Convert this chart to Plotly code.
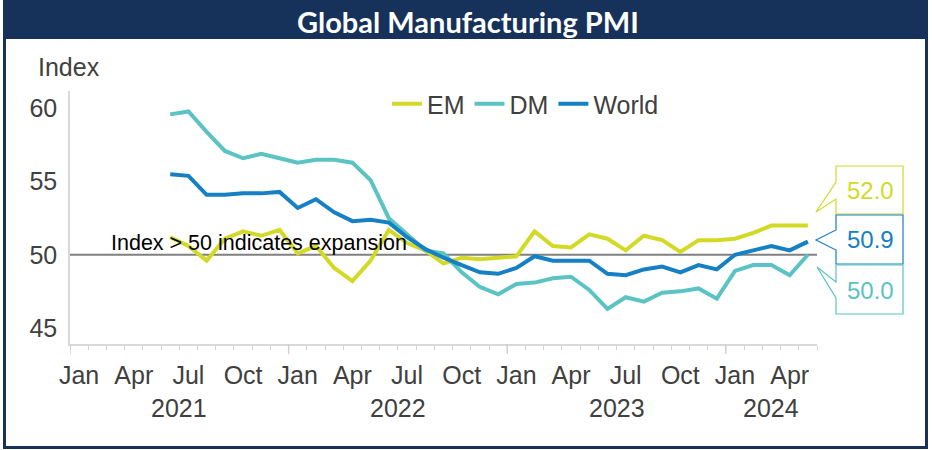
import plotly.graph_objects as go
import pandas as pd

# ---------------- data ----------------
months = [str(p) for p in pd.period_range("2021-06", "2024-05", freq="M")]
em = [51.2, 50.6, 49.6, 51.1, 51.6, 51.3, 51.7, 50.1, 50.6, 49.1, 48.2, 49.6,
      51.7, 50.8, 50.3, 49.4, 49.8, 49.7, 49.8, 49.9, 51.6, 50.6, 50.5, 51.4,
      51.1, 50.3, 51.3, 51.0, 50.2, 51.0, 51.0, 51.1, 51.5, 52.0, 52.0, 52.0]
dm = [59.6, 59.8, 58.4, 57.1, 56.6, 56.9, 56.6, 56.3, 56.5, 56.5, 56.3, 55.1,
      52.5, 51.4, 50.3, 50.1, 48.8, 47.8, 47.3, 48.0, 48.1, 48.4, 48.5, 47.6,
      46.3, 47.1, 46.8, 47.4, 47.5, 47.7, 47.0, 48.9, 49.3, 49.3, 48.6, 50.0]
world = [55.5, 55.4, 54.1, 54.1, 54.2, 54.2, 54.3, 53.2, 53.8, 52.9, 52.3, 52.4,
         52.2, 51.2, 50.4, 49.8, 49.3, 48.8, 48.7, 49.1, 49.9, 49.6, 49.6, 49.6,
         48.7, 48.6, 49.0, 49.2, 48.8, 49.3, 49.0, 50.0, 50.3, 50.6, 50.3, 50.9]
axis_start = "2021-01"
axis_end = "2024-05"
month_tick_names = ["Jan", "Apr", "Jul", "Oct"]
years = [2021, 2022, 2023, 2024]
y_ticks = [45, 50, 55, 60]
threshold = 50
threshold_text = "Index > 50 indicates expansion"
title_text = "Global Manufacturing PMI"

# ---------------- styling ----------------
C_EM = "#d2da26"
C_DM = "#5bc3c3"
C_WORLD = "#1580c4"
NAVY = "#16315a"
GRAY_TXT = "#404040"
FONT = "Liberation Sans, Arial, sans-serif"

W, H = 932, 450
L, T, R, B = 70, 91, 115, 106
PW, PH = W - L - R, H - T - B


def px(xp):
    return (xp - L) / PW


def py(yp):
    return (T + PH - yp) / PH


start = pd.Period(axis_start, freq="M")
end = pd.Period(axis_end, freq="M")
n_months = (end - start).n + 1


def midx(s):
    return (pd.Period(s, freq="M") - start).n


x = [midx(m) for m in months]

fig = go.Figure()
for name, vals, col in [("EM", em, C_EM), ("DM", dm, C_DM), ("World", world, C_WORLD)]:
    fig.add_trace(go.Scatter(x=x, y=vals, name=name, mode="lines",
                             line=dict(color=col, width=4), hoverinfo="skip"))

# month tick labels
tickvals, ticktext = [], []
for i in range(n_months):
    p = start + i
    if p.month in (1, 4, 7, 10):
        tickvals.append(i)
        ticktext.append(month_tick_names[(p.month - 1) // 3])

fig.update_layout(
    width=W, height=H,
    margin=dict(l=L, r=R, t=T, b=B, pad=0),
    paper_bgcolor="white", plot_bgcolor="white",
    font=dict(family=FONT, color=GRAY_TXT, size=25),
    showlegend=True,
    legend=dict(orientation="h", x=px(387), xanchor="left", y=py(104), yanchor="middle",
                font=dict(size=25, color=GRAY_TXT), bgcolor="rgba(0,0,0,0)",
                itemwidth=30, tracegroupgap=0),
    xaxis=dict(range=[-0.5, n_months - 0.5], tickvals=tickvals, ticktext=ticktext,
               ticks="", showgrid=False, zeroline=False, showline=True,
               linecolor="#d9d9d9", linewidth=1.5,
               tickfont=dict(size=25, color=GRAY_TXT, family=FONT),
               ticklabelstandoff=8,
               minor=dict(tick0=-0.5, dtick=1, ticks="outside", ticklen=4,
                          tickcolor="#d0d0d0", tickwidth=1)),
    yaxis=dict(range=[43.9, 61.2], tickvals=y_ticks, ticks="", showgrid=False,
               zeroline=False, showline=True, linecolor="#d9d9d9", linewidth=1.5,
               tickfont=dict(size=25, color=GRAY_TXT, family=FONT),
               ticklabelstandoff=6),
)

shapes = []
# threshold line
shapes.append(dict(type="line", xref="paper", yref="y", x0=0, x1=1, y0=threshold, y1=threshold,
                   line=dict(color="#808080", width=2), layer="below"))
# year boundary ticks
for k in range(len(years)):
    xb = midx(f"{years[k]}-01") - 0.5
    shapes.append(dict(type="line", xref="x", yref="paper", x0=xb, x1=xb,
                       y0=0, y1=-10 / PH, line=dict(color="#d0d0d0", width=1.5)))
# frame and title bar
shapes.append(dict(type="rect", xref="paper", yref="paper", x0=px(4), x1=px(926.5),
                   y0=py(39), y1=py(0), fillcolor=NAVY, line=dict(width=0)))
shapes.append(dict(type="rect", xref="paper", yref="paper", x0=px(4.5), x1=px(926.5),
                   y0=py(447.5), y1=py(1), line=dict(color=NAVY, width=3)))


def callout(box_top, box_bot, t1, t2, tip_x, tip_y, col):
    xl, xr = 836, 903
    pts = [(xl, box_top), (xr, box_top), (xr, box_bot), (xl, box_bot), (xl, t2),
           (tip_x, tip_y), (xl, t1)]
    path = "M " + " L ".join(f"{px(a):.5f},{py(b):.5f}" for a, b in pts) + " Z"
    return dict(type="path", xref="paper", yref="paper", path=path,
                fillcolor="white", line=dict(color=col, width=1.2))


shapes.append(callout(166, 214, 182, 199, 816, 212, C_EM))
shapes.append(callout(215, 264, 230, 250, 816, 240, C_WORLD))
shapes.append(callout(265, 314, 282, 298, 817, 267, C_DM))
fig.update_layout(shapes=shapes)

ann = []
ann.append(dict(text=f"<b>{title_text}</b>", xref="paper", yref="paper", x=px(468), y=py(21),
                showarrow=False, font=dict(family="Lato, Open Sans, sans-serif", size=29, color="white"),
                xanchor="center", yanchor="middle"))
ann.append(dict(text="Index", xref="paper", yref="paper", x=px(69), y=py(67), showarrow=False,
                font=dict(size=25, color=GRAY_TXT), xanchor="center", yanchor="middle"))
ann.append(dict(text=threshold_text, xref="paper", yref="paper", x=px(109), y=py(243),
                showarrow=False, font=dict(size=21.5, color="black"),
                xanchor="left", yanchor="middle"))
for yr in years:
    first = max(midx(f"{yr}-01"), 0)
    last = min(midx(f"{yr}-12"), n_months - 1)
    ann.append(dict(text=str(yr), xref="x", yref="paper", x=(first + last) / 2, y=py(408),
                    showarrow=False, font=dict(size=25, color=GRAY_TXT),
                    xanchor="center", yanchor="middle"))
for vals, col, yc in [(em, C_EM, 190), (world, C_WORLD, 240), (dm, C_DM, 290)]:
    ann.append(dict(text=f"{vals[-1]:.1f}", xref="paper", yref="paper", x=px(870), y=py(yc),
                    showarrow=False, font=dict(size=24, color=col),
                    xanchor="center", yanchor="middle"))
fig.update_layout(annotations=ann)

fig.write_html("out.html", config={"displayModeBar": False},
               post_script="document.body.style.margin='0';")
